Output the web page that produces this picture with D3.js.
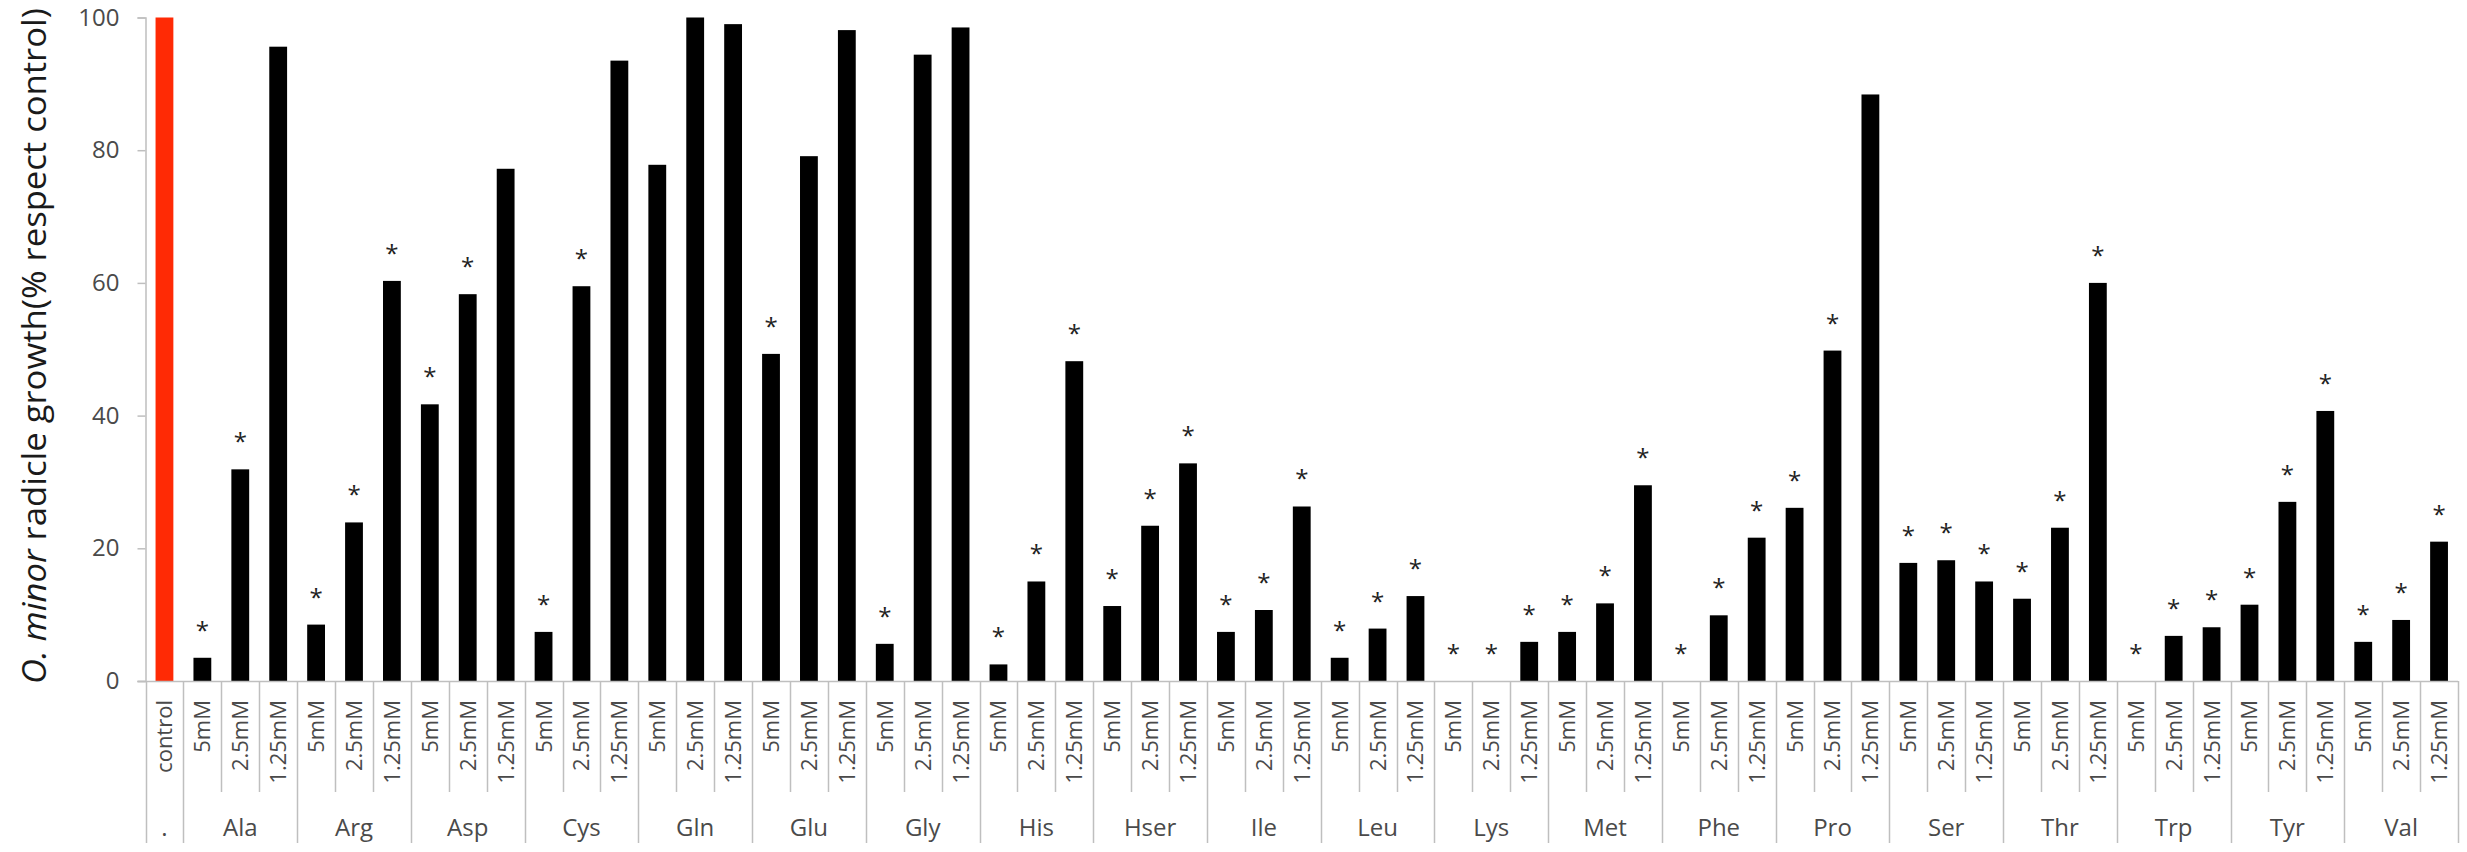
<!DOCTYPE html>
<html><head><meta charset="utf-8">
<script src="https://cdn.jsdelivr.net/npm/d3@7"></script>
<style>
html,body{margin:0;padding:0;background:#fff;}
svg{display:block;}
text{font-family:"Open Sans",sans-serif;}
</style></head>
<body>
<svg id="chart" width="2467" height="852"></svg>
<script>
// ---- data ----
const aminoAcids = ["Ala","Arg","Asp","Cys","Gln","Glu","Gly","His","Hser","Ile","Leu","Lys","Met","Phe","Pro","Ser","Thr","Trp","Tyr","Val"];
const concentrations = ["5mM","2.5mM","1.25mM"];
const controlValue = 100;
const values5mM   = [3.5, 8.5, 41.7, 7.4, 77.8, 49.3, 5.6, 2.5, 11.3, 7.4, 3.5, 0, 7.4, 0, 26.1, 17.8, 12.4, 0, 11.5, 5.9];
const values2_5mM = [31.9, 23.9, 58.3, 59.5, 100, 79.1, 94.4, 15.0, 23.4, 10.7, 7.9, 0, 11.7, 9.9, 49.8, 18.2, 23.1, 6.8, 27.0, 9.2];
const values1_25mM= [95.6, 60.3, 77.2, 93.5, 99.0, 98.1, 98.5, 48.2, 32.8, 26.3, 12.8, 5.9, 29.5, 21.6, 88.4, 15.0, 60.0, 8.1, 40.7, 21.0];
// significance (1 = asterisk)
const sig5mM   = [1,1,1,1,0,1,1,1,1,1,1,1,1,1,1,1,1,1,1,1];
const sig2_5mM = [1,1,1,1,0,0,0,1,1,1,1,1,1,1,1,1,1,1,1,1];
const sig1_25mM= [0,1,0,0,0,0,0,1,1,1,1,1,1,1,0,1,1,1,1,1];
const yTicks = [0,20,40,60,80,100];

// ---- build rows ----
const rows = [{id:"ctrl", group:".", conc:"control", value:controlValue, sig:0, control:true}];
const valArrs = [values5mM, values2_5mM, values1_25mM];
const sigArrs = [sig5mM, sig2_5mM, sig1_25mM];
aminoAcids.forEach((aa,i)=>{
  concentrations.forEach((c,j)=>{
    rows.push({id:aa+"_"+c, group:aa, conc:c, value:valArrs[j][i], sig:sigArrs[j][i], control:false});
  });
});
const groupList = ["."].concat(aminoAcids);

// ---- layout ----
const svg = d3.select("#chart");
const plotLeft = 145.5, plotRight = 2458, plotTop = 17.5, plotBase = 681;
const x = d3.scaleBand().domain(rows.map(d=>d.id)).range([plotLeft,plotRight]).paddingInner(0.53).paddingOuter(0.265);
const slot = d3.scaleBand().domain(rows.map(d=>d.id)).range([plotLeft,plotRight]).padding(0);
const y = d3.scaleLinear().domain([0,100]).range([plotBase, plotTop]);

const lineCol = "#bfbfbf";
const textCol = "#4a4a4a";

// y axis
const yAxis = d3.axisLeft(y).tickValues(yTicks).tickSize(8).tickPadding(18).tickFormat(d3.format("d"));
const gy = svg.append("g").attr("transform",`translate(${plotLeft},0)`).call(yAxis);
gy.select(".domain").attr("stroke",lineCol).attr("stroke-width",1.5);
gy.selectAll(".tick line").attr("stroke",lineCol).attr("stroke-width",1.5);
gy.selectAll(".tick text").attr("fill",textCol).style("font-size","24px").style("font-family","'Open Sans',sans-serif");

// bars
svg.append("g").selectAll("rect").data(rows).join("rect")
  .attr("x",d=>x(d.id))
  .attr("width",x.bandwidth())
  .attr("y",d=>y(d.value))
  .attr("height",d=>y(0)-y(d.value))
  .attr("fill",d=>d.control?"#ff2a05":"#000");

// baseline
svg.append("line").attr("x1",plotLeft-8).attr("x2",plotRight).attr("y1",plotBase+0.5).attr("y2",plotBase+0.5)
  .attr("stroke",lineCol).attr("stroke-width",1.5);

// asterisks
svg.append("g").selectAll("text").data(rows.filter(d=>d.sig)).join("text")
  .attr("x",d=>x(d.id)+x.bandwidth()/2)
  .attr("y",d=>y(d.value)-19)
  .attr("text-anchor","middle")
  .attr("fill","#222")
  .style("font-size","24px")
  .text("*");

// category separators
const innerBottom = 792, outerBottom = 843;
const sepData = [];
rows.forEach((d,i)=>{
  const xs = slot(d.id);
  const isGroupStart = i===0 || rows[i-1].group!==d.group;
  sepData.push({x:xs, bottom:isGroupStart?outerBottom:innerBottom});
});
sepData.push({x:plotRight, bottom:outerBottom});
svg.append("g").selectAll("line").data(sepData).join("line")
  .attr("x1",d=>Math.round(d.x)+0.5).attr("x2",d=>Math.round(d.x)+0.5)
  .attr("y1",plotBase).attr("y2",d=>d.bottom)
  .attr("stroke",lineCol).attr("stroke-width",1.5);

// sub labels (rotated)
svg.append("g").selectAll("text").data(rows).join("text")
  .attr("transform",d=>`translate(${slot(d.id)+slot.bandwidth()/2+8},700) rotate(-90)`)
  .attr("text-anchor","end")
  .attr("fill",textCol)
  .style("font-size","22px")
  .text(d=>d.conc);

// group labels
const groupExtent = groupList.map(g=>{
  const r = rows.filter(d=>d.group===g);
  return {g, x0:slot(r[0].id), x1:slot(r[r.length-1].id)+slot.bandwidth()};
});
svg.append("g").selectAll("text").data(groupExtent).join("text")
  .attr("x",d=>(d.x0+d.x1)/2)
  .attr("y",836)
  .attr("text-anchor","middle")
  .attr("fill",textCol)
  .style("font-size","24px")
  .text(d=>d.g);

// y title
const title = svg.append("text")
  .attr("transform",`translate(46,346) rotate(-90)`)
  .attr("text-anchor","middle")
  .attr("fill","#1a1a1a")
  .attr("textLength",676)
  .attr("lengthAdjust","spacingAndGlyphs")
  .style("font-size","33px");
title.append("tspan").style("font-style","italic").text("O. minor");
title.append("tspan").text(" radicle growth(% respect control)");
</script>
</body></html>
